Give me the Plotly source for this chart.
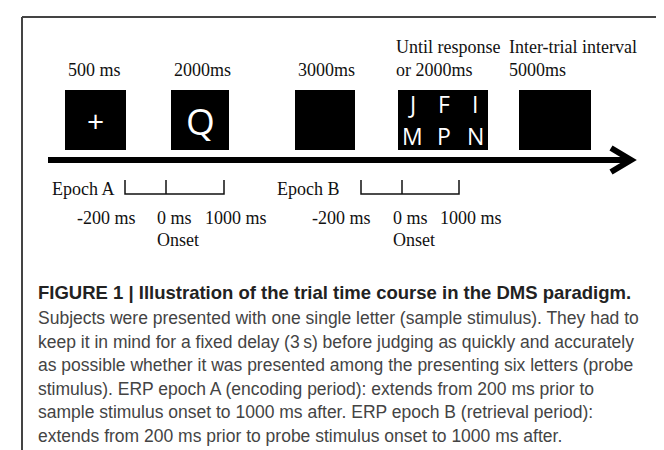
import plotly.graph_objects as go

# ---- content ----
stage_durations = ["500 ms", "2000ms", "3000ms", "Until response<br>or 2000ms", "Inter-trial interval<br>5000ms"]
stage_stimuli = ["+", "Q", "", "J  F  I|M  P  N", ""]
epoch_names = ["Epoch A", "Epoch B"]
epoch_ticks = ["-200 ms", "0 ms", "1000 ms"]
onset_label = "Onset"
caption_title = "FIGURE 1 | Illustration of the trial time course in the DMS paradigm."
caption_lines = [
    "Subjects were presented with one single letter (sample stimulus). They had to",
    "keep it in mind for a fixed delay (3\u2009s) before judging as quickly and accurately",
    "as possible whether it was presented among the presenting six letters (probe",
    "stimulus). ERP epoch A (encoding period): extends from 200 ms prior to",
    "sample stimulus onset to 1000 ms after. ERP epoch B (retrieval period):",
    "extends from 200 ms prior to probe stimulus onset to 1000 ms after.",
]

# ---- layout constants ----
W, H = 664, 450
SERIF = "Liberation Serif"
SANS = "Liberation Sans"
SERIF_SIZE = 18
box_x = [(57, 118), (163, 221), (287, 347), (390, 480), (511, 583)]
label_x = [58, 164, 288, 386, 499]
box_y = (82, 142)

shapes = []
ann = []

def serif_text(x, y, text, anchor="left"):
    ann.append(dict(x=x, y=y, text=text, xanchor=anchor, yanchor="middle", showarrow=False,
                    font=dict(family=SERIF, size=SERIF_SIZE, color="#111")))

# frame
shapes.append(dict(type="line", x0=14, x1=W, y0=9, y1=9, line=dict(color="#444", width=2)))
shapes.append(dict(type="line", x0=14, x1=14, y0=9, y1=H, line=dict(color="#444", width=2)))

# boxes + labels
for (x0, x1), lx, lab, stim in zip(box_x, label_x, stage_durations, stage_stimuli):
    shapes.append(dict(type="rect", x0=x0, x1=x1, y0=box_y[0], y1=box_y[1],
                       fillcolor="black", line=dict(width=0)))
    parts = lab.split("<br>")
    if len(parts) == 2:
        serif_text(lx, 39, parts[0])
        serif_text(lx, 62, parts[1])
    else:
        serif_text(lx, 62, parts[0])
    if "|" in stim:
        for r, row in enumerate(stim.split("|")):
            for cx, ch in zip([404, 436, 467], row.split()):
                ann.append(dict(x=cx, y=96 + r * 32, text=ch, xanchor="center", yanchor="middle",
                                showarrow=False, font=dict(family="Open Sans", size=23, color="white")))
    elif stim:
        size = 30 if stim == "+" else 37
        ann.append(dict(x=(x0 + x1) / 2, y=112, text=stim, xanchor="center", yanchor="middle",
                        showarrow=False, font=dict(family="Open Sans", size=size, color="white")))

# timeline arrow
shapes.append(dict(type="line", x0=40, x1=620, y0=152, y1=152, line=dict(color="black", width=6)))
shapes.append(dict(type="path", path="M 603 140 L 623 152 L 603 164",
                   line=dict(color="black", width=6)))

# epochs
epoch_text_x = [42, 267]
bracket_x = [(117, 158, 216), (353, 394, 451)]
tick_x = [(67, 147, 195), (302, 383, 430)]
for name, ex, (bx0, bxm, bx1), txs in zip(epoch_names, epoch_text_x, bracket_x, tick_x):
    serif_text(ex, 181, name)
    shapes.append(dict(type="path", path=f"M {bx0} 172 L {bx0} 186 L {bx1} 186 L {bx1} 172",
                       line=dict(color="#111", width=1.5)))
    shapes.append(dict(type="line", x0=bxm, x1=bxm, y0=172, y1=186, line=dict(color="#111", width=1.5)))
    for tx, tl in zip(txs, epoch_ticks):
        serif_text(tx, 210, tl)
    serif_text(txs[1], 232, onset_label)

# caption
ann.append(dict(x=28, y=284, text="<b>" + caption_title + "</b>", xanchor="left", yanchor="middle",
                showarrow=False, font=dict(family=SANS, size=18.5, color="#222")))
for k, line in enumerate(caption_lines):
    ann.append(dict(x=28, y=310 + k * 23.6, text=line, xanchor="left", yanchor="middle",
                    showarrow=False, font=dict(family=SANS, size=17.5, color="#444")))

fig = go.Figure()
fig.update_layout(
    width=W, height=H, margin=dict(l=0, r=0, t=0, b=0),
    paper_bgcolor="white", plot_bgcolor="white",
    xaxis=dict(range=[0, W], visible=False, fixedrange=True),
    yaxis=dict(range=[H, 0], visible=False, fixedrange=True),
    shapes=shapes, annotations=ann, showlegend=False,
)
fig.write_html("out.html")
